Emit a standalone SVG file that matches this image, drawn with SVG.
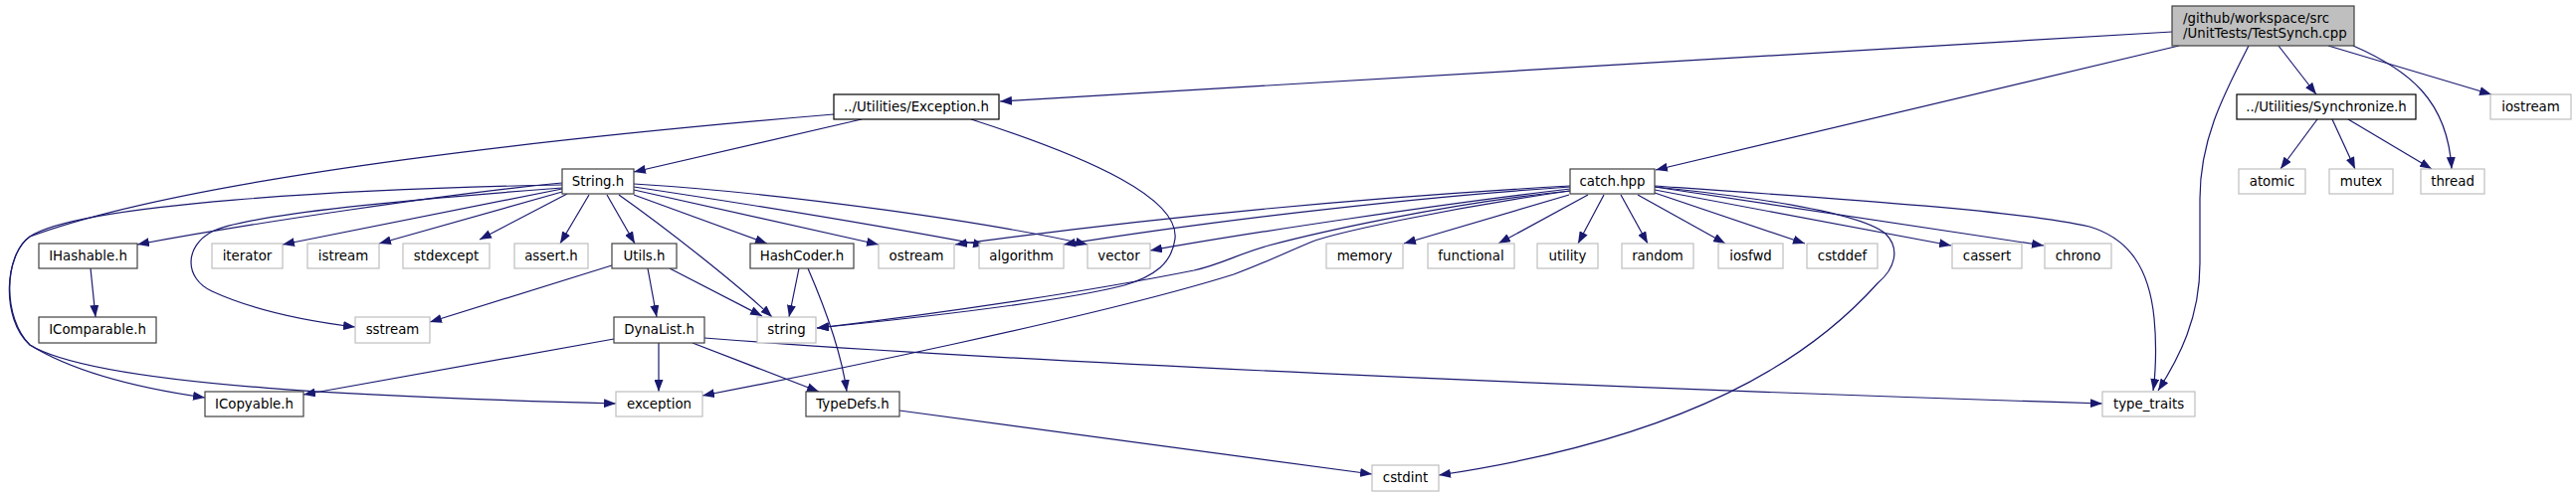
<svg xmlns="http://www.w3.org/2000/svg" width="2589" height="500" viewBox="0 0 2589 500">
<style>
.n rect{fill:#ffffff;stroke-width:1.2}
.doc rect{stroke:#404040}
.docb rect{stroke:#000000}
.ext rect{stroke:#bfbfbf}
.root rect{fill:#bfbfbf;stroke:#404040}
text{font-family:"DejaVu Sans","Liberation Sans",sans-serif;font-size:13.33px;fill:#000000;text-anchor:middle}
.root text{text-anchor:start}
#edges path{fill:none;stroke:#191970;stroke-width:1.2;marker-end:url(#ah)}
</style>
<defs>
<marker id="ah" markerUnits="userSpaceOnUse" markerWidth="12" markerHeight="9" refX="12" refY="4.5" orient="auto" viewBox="0 0 12 9">
<path d="M0,0 L12,4.5 L0,9 z" fill="#191970"/>
</marker>
</defs>
<rect width="2589" height="500" fill="#ffffff"/>
<g id="edges">
<path d="M2183,32 L1005,102"/>
<path d="M2190,46 L1664,171"/>
<path d="M2260,46 C2235,95 2211,140 2211,200 L2211,265 C2211,320 2190,360 2169,393"/>
<path d="M2290,46 L2328,95"/>
<path d="M2340,46 L2504,95"/>
<path d="M2365,46 C2420,70 2460,100 2464,170"/>
<path d="M2329,120 L2292,170"/>
<path d="M2344,120 L2367,170"/>
<path d="M2360,120 L2444,170"/>
<path d="M866,120 L637,173"/>
<path d="M976,120 C1100,160 1185,200 1181,240 C1178,265 1160,278 1130,287 C1060,305 900,322 821,330"/>
<path d="M838,115 C600,135 200,175 30,238 C5,255 0,320 30,347 C100,390 400,400 619,406"/>
<path d="M565,186 C350,190 80,205 30,238 C3,258 3,320 30,347 C80,378 150,392 206,400"/>
<path d="M565,184 C450,195 250,225 138,246"/>
<path d="M565,189 C420,200 250,215 213,233 C185,248 185,280 213,293 C250,310 300,322 357,329"/>
<path d="M565,190 L284,246"/>
<path d="M565,193 L381,245"/>
<path d="M570,195 L482,241"/>
<path d="M592,196 L563,245"/>
<path d="M610,196 L638,245"/>
<path d="M622,196 C670,230 740,285 776,319"/>
<path d="M637,196 L771,245"/>
<path d="M637,191 L883,246"/>
<path d="M637,188 C750,205 900,230 990,247"/>
<path d="M637,185 C800,195 1000,225 1093,246"/>
<path d="M1578,187 C1350,200 1150,220 960,246"/>
<path d="M1578,188 C1400,200 1200,225 1069,246"/>
<path d="M1578,190 C1450,205 1250,235 1156,252"/>
<path d="M1578,192 C1450,205 1320,235 1275,247 C1240,257 1230,265 1200,272 C1100,292 950,315 821,330"/>
<path d="M1578,192 C1450,210 1340,235 1319,243 C1290,255 1270,265 1240,276 C1100,320 800,380 706,398"/>
<path d="M1577,196 L1411,245"/>
<path d="M1596,196 L1506,245"/>
<path d="M1612,196 L1586,245"/>
<path d="M1629,196 L1656,245"/>
<path d="M1646,196 L1734,245"/>
<path d="M1663,194 L1814,245"/>
<path d="M1663,191 L1961,247"/>
<path d="M1663,188 L2054,247"/>
<path d="M1663,188 C1780,200 1870,215 1895,235 C1910,250 1905,270 1887,285 C1820,360 1700,440 1446,478"/>
<path d="M1663,187 C1850,200 2030,212 2100,228 C2140,240 2160,270 2165,320 C2168,350 2166,380 2164,393"/>
<path d="M617,341 L305,397"/>
<path d="M662,345 L662,394"/>
<path d="M696,345 L823,394"/>
<path d="M708,340 C1000,363 1600,390 2113,406"/>
<path d="M615,267 L432,324"/>
<path d="M651,270 L660,319"/>
<path d="M673,270 L766,318"/>
<path d="M803,270 L793,319"/>
<path d="M812,270 C825,300 845,350 851,394"/>
<path d="M904,413 L1379,477"/>
<path d="M91,270 L96,319"/>
</g>
<g id="node-root" class="n root"><rect x="2183" y="6" width="183" height="40"/><text x="2194" y="22.5">/github/workspace/src</text><text x="2194" y="37.5">/UnitTests/TestSynch.cpp</text></g>
<g id="node-exception-h" class="n docb"><rect x="838" y="95" width="166" height="25"/><text x="921" y="112">../Utilities/Exception.h</text></g>
<g id="node-synchronize-h" class="n docb"><rect x="2248" y="95" width="180" height="25"/><text x="2338" y="112">../Utilities/Synchronize.h</text></g>
<g id="node-iostream" class="n ext"><rect x="2503" y="95" width="81" height="25"/><text x="2543.5" y="112">iostream</text></g>
<g id="node-string-h" class="n doc"><rect x="565" y="170" width="72" height="25"/><text x="601" y="187">String.h</text></g>
<g id="node-catch-hpp" class="n doc"><rect x="1578" y="170" width="85" height="25"/><text x="1620.5" y="187">catch.hpp</text></g>
<g id="node-atomic" class="n ext"><rect x="2250" y="170" width="67" height="25"/><text x="2283.5" y="187">atomic</text></g>
<g id="node-mutex" class="n ext"><rect x="2341" y="170" width="64" height="25"/><text x="2373" y="187">mutex</text></g>
<g id="node-thread" class="n ext"><rect x="2433" y="170" width="64" height="25"/><text x="2465" y="187">thread</text></g>
<g id="node-ihashable-h" class="n doc"><rect x="39" y="245" width="99" height="25"/><text x="88.5" y="262">IHashable.h</text></g>
<g id="node-iterator" class="n ext"><rect x="213" y="245" width="71" height="25"/><text x="248.5" y="262">iterator</text></g>
<g id="node-istream" class="n ext"><rect x="309" y="245" width="72" height="25"/><text x="345" y="262">istream</text></g>
<g id="node-stdexcept" class="n ext"><rect x="405" y="245" width="87" height="25"/><text x="448.5" y="262">stdexcept</text></g>
<g id="node-assert-h" class="n ext"><rect x="517" y="245" width="74" height="25"/><text x="554" y="262">assert.h</text></g>
<g id="node-utils-h" class="n doc"><rect x="615" y="245" width="65" height="25"/><text x="647.5" y="262">Utils.h</text></g>
<g id="node-hashcoder-h" class="n doc"><rect x="754" y="245" width="104" height="25"/><text x="806" y="262">HashCoder.h</text></g>
<g id="node-ostream" class="n ext"><rect x="883" y="245" width="76" height="25"/><text x="921" y="262">ostream</text></g>
<g id="node-algorithm" class="n ext"><rect x="984" y="245" width="85" height="25"/><text x="1026.5" y="262">algorithm</text></g>
<g id="node-vector" class="n ext"><rect x="1093" y="245" width="63" height="25"/><text x="1124.5" y="262">vector</text></g>
<g id="node-memory" class="n ext"><rect x="1333" y="245" width="77" height="25"/><text x="1371.5" y="262">memory</text></g>
<g id="node-functional" class="n ext"><rect x="1435" y="245" width="87" height="25"/><text x="1478.5" y="262">functional</text></g>
<g id="node-utility" class="n ext"><rect x="1545" y="245" width="61" height="25"/><text x="1575.5" y="262">utility</text></g>
<g id="node-random" class="n ext"><rect x="1630" y="245" width="72" height="25"/><text x="1666" y="262">random</text></g>
<g id="node-iosfwd" class="n ext"><rect x="1727" y="245" width="65" height="25"/><text x="1759.5" y="262">iosfwd</text></g>
<g id="node-cstddef" class="n ext"><rect x="1816" y="245" width="71" height="25"/><text x="1851.5" y="262">cstddef</text></g>
<g id="node-cassert" class="n ext"><rect x="1962" y="245" width="70" height="25"/><text x="1997" y="262">cassert</text></g>
<g id="node-chrono" class="n ext"><rect x="2055" y="245" width="67" height="25"/><text x="2088.5" y="262">chrono</text></g>
<g id="node-icomparable-h" class="n doc"><rect x="39" y="319" width="118" height="26"/><text x="98" y="336">IComparable.h</text></g>
<g id="node-sstream" class="n ext"><rect x="357" y="319" width="75" height="26"/><text x="394.5" y="336">sstream</text></g>
<g id="node-dynalist-h" class="n doc"><rect x="617" y="319" width="91" height="26"/><text x="662.5" y="336">DynaList.h</text></g>
<g id="node-string" class="n ext"><rect x="761" y="319" width="59" height="26"/><text x="790.5" y="336">string</text></g>
<g id="node-icopyable-h" class="n doc"><rect x="206" y="394" width="99" height="25"/><text x="255.5" y="411">ICopyable.h</text></g>
<g id="node-exception" class="n ext"><rect x="619" y="394" width="87" height="25"/><text x="662.5" y="411">exception</text></g>
<g id="node-typedefs-h" class="n doc"><rect x="810" y="394" width="94" height="25"/><text x="857" y="411">TypeDefs.h</text></g>
<g id="node-type-traits" class="n ext"><rect x="2113" y="394" width="93" height="25"/><text x="2159.5" y="411">type_traits</text></g>
<g id="node-cstdint" class="n ext"><rect x="1379" y="468" width="67" height="26"/><text x="1412.5" y="485">cstdint</text></g>
</svg>
